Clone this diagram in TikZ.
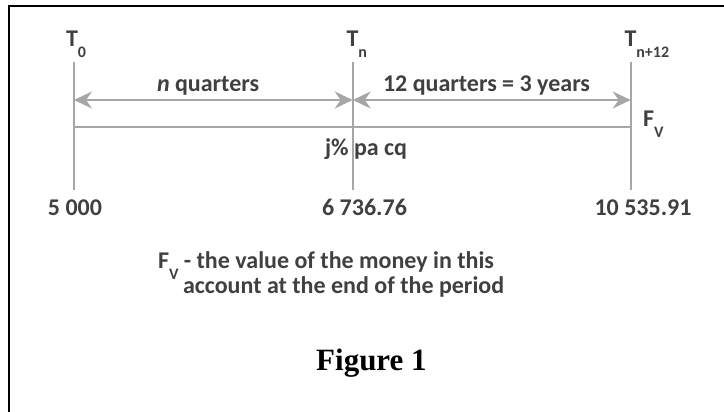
\documentclass[tikz,border=0pt]{standalone}
\usepackage{fontspec}
\setmainfont{Carlito}
\newfontfamily\figfont{Liberation Serif}
\usetikzlibrary{arrows.meta}
\definecolor{txtgray}{HTML}{404040}
\definecolor{linegray}{HTML}{A6A6A6}
\newcommand{\lsub}[1]{{\fontsize{16}{16}\selectfont\raisebox{-11pt}{#1}}}
\tikzset{
  lbl/.style={inner sep=0pt, outer sep=0pt, text=txtgray, font=\bfseries\fontsize{24}{28}\selectfont},
  tline/.style={draw=linegray, line width=2pt},
  dimarrow/.style={draw=linegray, line width=2pt, {Stealth[length=18pt,width=17pt,inset=6pt]}-{Stealth[length=18pt,width=17pt,inset=6pt]}},
}
\begin{document}
\begin{tikzpicture}[x=1pt,y=-1pt]
\useasboundingbox (0,0) rectangle (724,412);
\draw[black, line width=2pt] (9,420) -- (9,6) -- (730,6);
% tick coordinates
\coordinate (t0top) at (74,62);   \coordinate (t0bot) at (74,190);
\coordinate (tntop) at (352.7,62); \coordinate (tnbot) at (352.7,190);
\coordinate (tetop) at (630.7,62); \coordinate (tebot) at (630.7,190);
\coordinate (a0) at (74,100); \coordinate (an) at (352.7,100); \coordinate (ae) at (630.7,100);
\coordinate (h0) at (74,127); \coordinate (he) at (630.7,127);
\draw[tline] (t0top) -- (t0bot);
\draw[tline] (tntop) -- (tnbot);
\draw[tline] (tetop) -- (tebot);
\draw[tline] (h0) -- (he);
\draw[dimarrow] (a0) -- (an);
\draw[dimarrow] (an) -- (ae);
% labels
\node[lbl, anchor=base west] (T0) at (66,47) {T\lsub{0}};
\node[lbl, anchor=base west] (Tn) at (346.5,47) {T\lsub{n}};
\node[lbl, anchor=base west] (Te) at (624.5,47) {T\lsub{n+12}};
\node[lbl, anchor=base west] (nq) at (157,92) {\textit{n} quarters};
\node[lbl, anchor=base west] (tq) at (383,92) {12 quarters = 3 years};
\node[lbl, anchor=base west] (fv) at (643,127) {F\lsub{V}};
\node[lbl, anchor=base west] (rate) at (325,155) {j\% pa cq};
\node[lbl, anchor=base] (v0) at (75,215) {5 000};
\node[lbl, anchor=base] (vn) at (364.5,215) {6 736.76};
\node[lbl, anchor=base] (ve) at (643,215) {10 535.91};
\node[lbl, anchor=base west] (note1) at (158,268) {F\lsub{V} - the value of the money in this};
\node[lbl, anchor=base west] (note2) at (183,293) {account at the end of the period};
\node[inner sep=0pt, anchor=base west, font=\figfont\bfseries\fontsize{31}{34}\selectfont] (fig) at (316,370) {Figure 1};
\end{tikzpicture}
\end{document}
